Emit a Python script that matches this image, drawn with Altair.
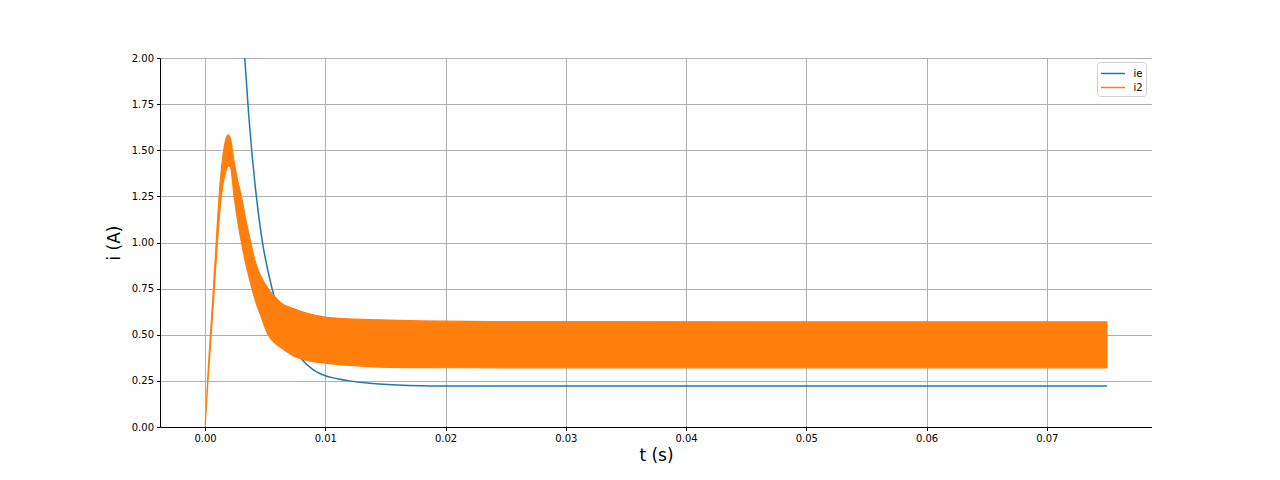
import altair as alt
import pandas as pd

# ie (blue) curve
ie_t = [0.0, 0.0020, 0.0025, 0.0030, 0.0033, 0.00363, 0.00421, 0.0047, 0.00557,
        0.0065, 0.0072, 0.0080, 0.0090, 0.0100, 0.0110, 0.0120, 0.0135, 0.01452,
        0.0160, 0.0180, 0.0200, 0.0750]
ie_v = [10.0, 3.60, 2.95, 2.31, 2.00, 1.69, 1.28, 1.03, 0.75,
        0.55, 0.45, 0.37, 0.31, 0.278, 0.262, 0.250, 0.238, 0.233,
        0.228, 0.224, 0.222, 0.222]

# i2 (orange) oscillation envelope
i2_t = [0.0, 0.00022, 0.00047, 0.00072, 0.00094, 0.00114, 0.0013, 0.0015, 0.00175,
        0.00191, 0.0021, 0.00241, 0.0027, 0.00302, 0.0034, 0.0038, 0.0042, 0.00455,
        0.00524, 0.0058, 0.00635, 0.00746, 0.00829, 0.0100, 0.0120,
        0.01452, 0.0180, 0.0250, 0.0750]
i2_upper = [0.0, 0.27, 0.53, 0.78, 1.02, 1.23, 1.36, 1.48, 1.565,
            1.583, 1.565, 1.44, 1.34, 1.25, 1.12, 1.00, 0.89, 0.83,
            0.75, 0.707, 0.671, 0.639, 0.62, 0.596, 0.586,
            0.581, 0.575, 0.571, 0.570]
i2_lower = [0.0, 0.23, 0.46, 0.70, 0.92, 1.10, 1.22, 1.32, 1.39,
            1.415, 1.41, 1.25, 1.12, 1.00, 0.88, 0.775, 0.68, 0.617,
            0.50, 0.455, 0.428, 0.382, 0.364, 0.346, 0.334,
            0.325, 0.322, 0.321, 0.321]

series_names = ["ie", "i2"]
series_colors = ["#1f77b4", "#ff7f0e"]
x_ticks = [0.00, 0.01, 0.02, 0.03, 0.04, 0.05, 0.06, 0.07]
y_ticks = [0.0, 0.25, 0.5, 0.75, 1.0, 1.25, 1.5, 1.75, 2.0]

ie_df = pd.DataFrame({"t": ie_t, "i": ie_v, "series": "ie"})
i2_df = pd.DataFrame({"t": i2_t, "hi": i2_upper, "lo": i2_lower, "series": "i2"})

font = "DejaVu Sans"

x_enc = alt.X("t:Q",
              scale=alt.Scale(domain=[-0.00375, 0.07875], nice=False, zero=False),
              axis=alt.Axis(values=x_ticks, format=".2f", title="t (s)",
                            titleFontSize=17, titleFont=font, titleFontWeight="normal",
                            titlePadding=4, labelFont=font, labelFontSize=10,
                            labelColor="black", tickColor="black", tickSize=3.5,
                            labelPadding=3, domainColor="black", grid=True,
                            gridColor="#b0b0b0", gridWidth=1, labelFlush=False))
y_scale = alt.Scale(domain=[0, 2], nice=False, zero=False)
y_axis = alt.Axis(values=y_ticks, format=".2f", title="i (A)",
                  titleFontSize=17, titleFont=font, titleFontWeight="normal",
                  titlePadding=8, labelFont=font, labelFontSize=10,
                  labelColor="black", tickColor="black", tickSize=3.5,
                  labelPadding=3, domainColor="black", grid=True,
                  gridColor="#b0b0b0", gridWidth=1, labelFlush=False)

line_ie = alt.Chart(ie_df).mark_line(strokeWidth=1.5, clip=True, interpolate="monotone").encode(
    x=x_enc,
    y=alt.Y("i:Q", scale=y_scale, axis=y_axis),
    color=alt.Color("series:N",
                    scale=alt.Scale(domain=series_names, range=series_colors),
                    legend=alt.Legend(title=None, orient="none", legendX=937, legendY=4,
                                      symbolType="M-1.6,0H1.6", symbolSize=225,
                                      symbolOffset=4.5,
                                      symbolStrokeWidth=1.5, labelFont=font,
                                      labelFontSize=10, labelColor="black",
                                      strokeColor="#d0d0d0", fillColor="white",
                                      padding=3, cornerRadius=3, rowPadding=0,
                                      labelOffset=12)),
)

band_i2 = alt.Chart(i2_df).mark_area(fill="#ff7f0e", stroke="#ff7f0e", strokeWidth=1.2,
                                     clip=True, interpolate="monotone").encode(
    x=x_enc,
    y=alt.Y("hi:Q", scale=y_scale, axis=y_axis),
    y2="lo:Q",
)

chart = alt.layer(line_ie, band_i2).properties(
    width=992, height=369,
    padding={"left": 152, "top": 50, "right": 0, "bottom": 45},
    autosize="none",
).configure_view(stroke="black", strokeWidth=1).configure(background="white")

chart.save("out.html", embed_options={"renderer": "svg", "actions": False})
